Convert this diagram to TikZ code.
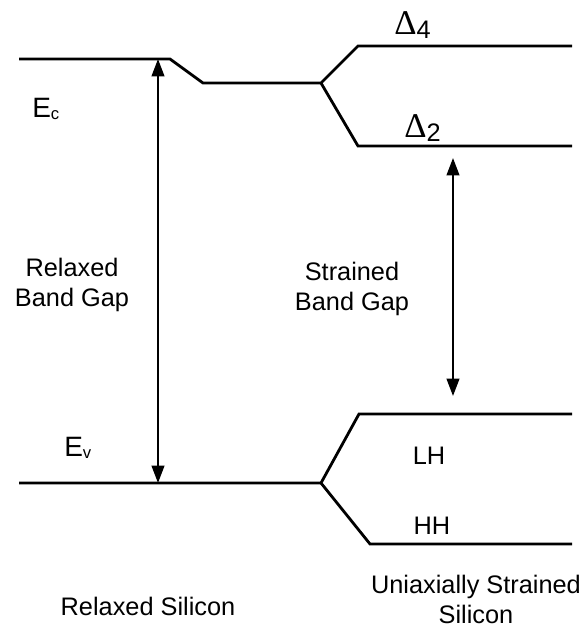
\documentclass[tikz,border=0pt]{standalone}
\usepackage{fontspec}
\setmainfont{Liberation Sans}
\newfontfamily\deltafont{Liberation Serif}
\usetikzlibrary{arrows.meta}

\begin{document}
\begin{tikzpicture}[x=0.75pt, y=-0.75pt,
    band/.style={line width=2.1pt, line join=miter},
    gap/.style={line width=1.5pt, {Triangle[width=9.5pt,length=13pt]}-{Triangle[width=9.5pt,length=13pt]}},
    lbl/.style={font=\fontsize{19}{22.5}\selectfont, align=center, inner sep=0pt}]
    \useasboundingbox (0,0) rectangle (585,629);
    % Conduction band
    \coordinate (ecL) at (19,59);
    \coordinate (ecK) at (170,59);
    \coordinate (ecD) at (203,83);
    \coordinate (ecS) at (321,83);
    \coordinate (dFour) at (358,46);
    \coordinate (dFourR) at (572,46);
    \coordinate (dTwo) at (358,146);
    \coordinate (dTwoR) at (572,146);
    \draw[band] (ecL) -- (ecK) -- (ecD) -- (ecS) -- (dFour) -- (dFourR);
    \draw[band] (ecS) -- (dTwo) -- (dTwoR);
    % Valence band
    \coordinate (evL) at (19,483);
    \coordinate (evS) at (321,483);
    \coordinate (lh) at (359,414);
    \coordinate (lhR) at (572,414);
    \coordinate (hh) at (370,544);
    \coordinate (hhR) at (572,544);
    \draw[band] (evL) -- (evS) -- (lh) -- (lhR);
    \draw[band] (evS) -- (hh) -- (hhR);
    % Band gaps
    \coordinate (rgTop) at (158,59);
    \coordinate (rgBot) at (158,483);
    \draw[gap] (rgTop) -- (rgBot);
    \coordinate (sgTop) at (453,158);
    \coordinate (sgBot) at (453,396);
    \draw[gap] (sgTop) -- (sgBot);
    % Labels
    \node[lbl, anchor=base west] (ecLbl) at (32,117) {{\fontsize{21}{21}\selectfont E}\raisebox{-0.1em}{\fontsize{12.5}{12}\selectfont c}};
    \node[lbl, anchor=base west] (evLbl) at (64,456) {{\fontsize{21}{21}\selectfont E}\raisebox{-0.1em}{\fontsize{12.5}{12}\selectfont v}};
    \node[lbl, anchor=base west] (dFourLbl) at (394,34) {{\deltafont\fontsize{26}{26}\selectfont Δ}\raisebox{-3pt}{4}};
    \node[lbl, anchor=base west] (dTwoLbl) at (404,137) {{\deltafont\fontsize{26}{26}\selectfont Δ}\raisebox{-3pt}{2}};
    \node[lbl] (rgLbl) at (72,285) {Relaxed\\Band Gap};
    \node[lbl] (sgLbl) at (352,289) {Strained\\Band Gap};
    \node[lbl] (lhLbl) at (429,456) {LH};
    \node[lbl] (hhLbl) at (432,526) {HH};
    \node[lbl] (rsLbl) at (148,606) {Relaxed Silicon};
    \node[lbl] (usLbl) at (476,599) {Uniaxially Strained\\Silicon};
\end{tikzpicture}
\end{document}
